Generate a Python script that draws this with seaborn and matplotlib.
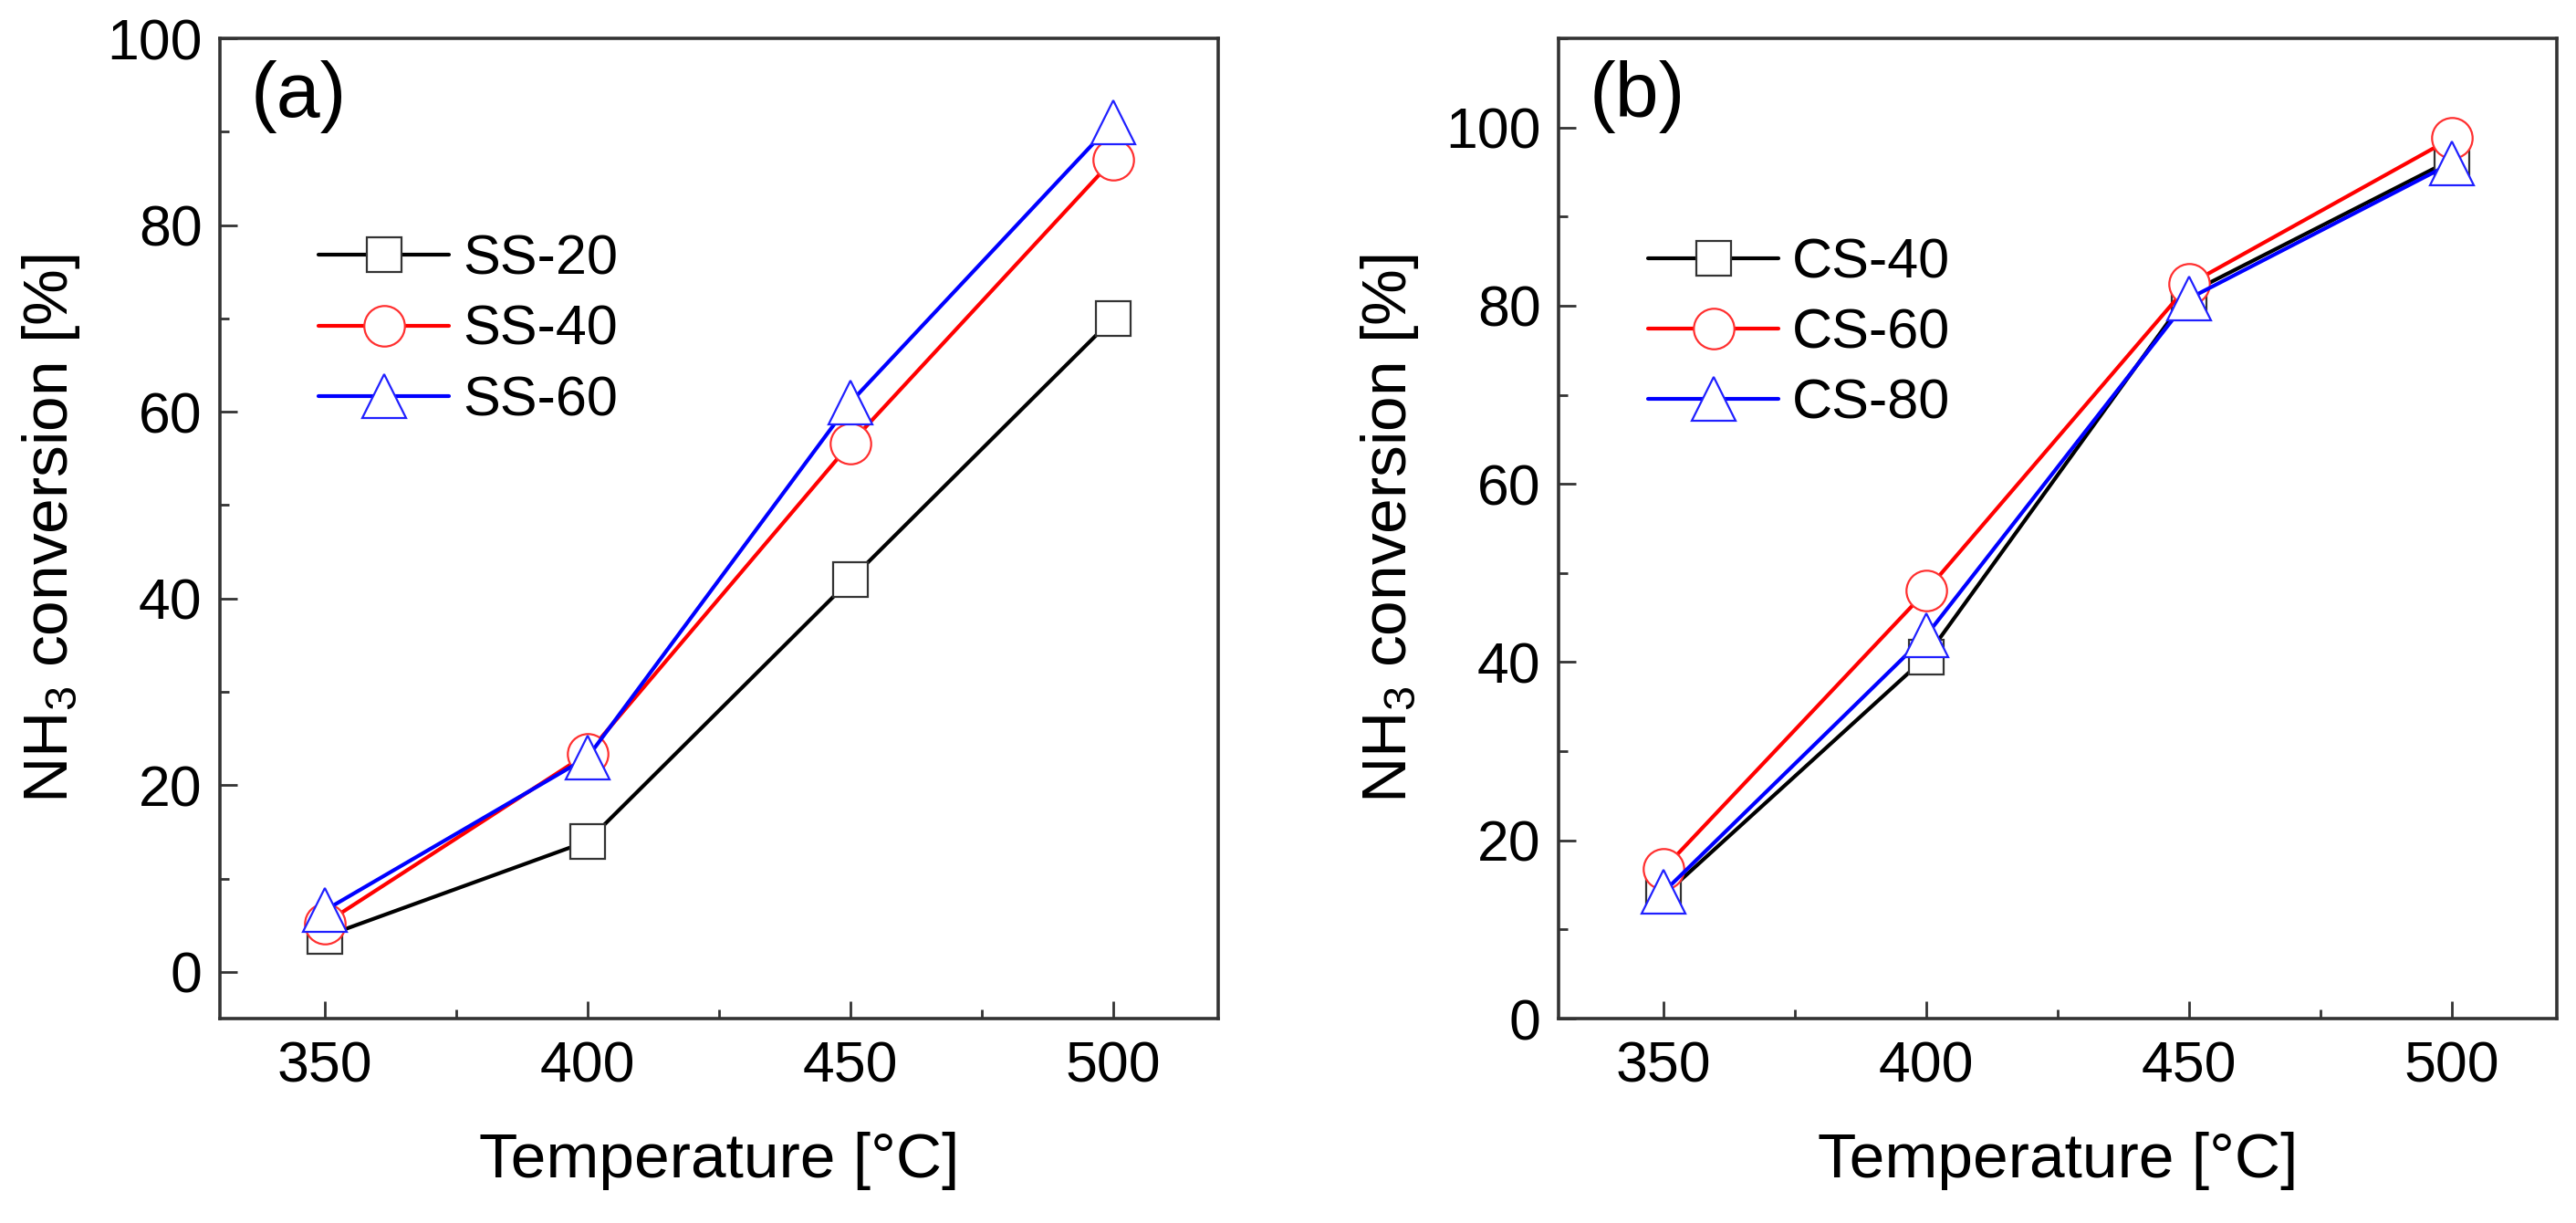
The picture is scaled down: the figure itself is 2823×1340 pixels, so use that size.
import numpy as np
import matplotlib
matplotlib.use('Agg')
import matplotlib.pyplot as plt
from matplotlib.ticker import MultipleLocator
import seaborn as sns

# data
temps = [350, 400, 450, 500]

ss_labels = ['SS-20', 'SS-40', 'SS-60']
ss_20 = [3.8, 14.0, 42.0, 70.0]
ss_40 = [5.2, 23.4, 56.6, 87.0]
ss_60 = [6.6, 23.0, 61.0, 91.0]

cs_labels = ['CS-40', 'CS-60', 'CS-80']
cs_40 = [13.8, 40.6, 81.4, 96.4]
cs_60 = [16.8, 48.0, 82.4, 98.8]
cs_80 = [14.2, 43.0, 80.8, 96.0]

colors = ['black', 'red', 'blue']
edge_colors = ['#333333', '#ff3030', '#2020ff']
markers = ['s', 'o', '^']
msizes = [27, 32, 34]

sns.set_style('ticks')
plt.rcParams['font.family'] = ['Liberation Sans', 'DejaVu Sans']
plt.rcParams['mathtext.default'] = 'regular'
plt.rcParams['text.color'] = 'black'
plt.rcParams['axes.labelcolor'] = 'black'
plt.rcParams['xtick.labelcolor'] = 'black'
plt.rcParams['ytick.labelcolor'] = 'black'

fig = plt.figure(figsize=(28.23, 13.40), dpi=100)
ax_a = fig.add_axes([241 / 2823, 1 - 1116 / 1340, (1335 - 241) / 2823, (1116 - 42) / 1340])
ax_b = fig.add_axes([1708 / 2823, 1 - 1116 / 1340, (2802 - 1708) / 2823, (1116 - 42) / 1340])


def draw_panel(ax, series, labels, ylim, tag, leg_xy):
    for vals, lab, c, ec, m, ms in zip(series, labels, colors, edge_colors, markers, msizes):
        sns.lineplot(x=temps, y=vals, ax=ax, color=c, lw=3, marker=m, markersize=ms,
                     markerfacecolor='white', markeredgecolor=ec, markeredgewidth=1.6,
                     label=lab)
    ax.set_xlim(330, 520)
    ax.set_ylim(*ylim)
    ax.xaxis.set_major_locator(MultipleLocator(50))
    ax.xaxis.set_minor_locator(MultipleLocator(25))
    ax.yaxis.set_major_locator(MultipleLocator(20))
    ax.yaxis.set_minor_locator(MultipleLocator(10))
    ax.tick_params(which='both', direction='in', top=False, right=False,
                   width=2, color='#333333', labelsize=45)
    ax.tick_params(axis='x', pad=17)
    ax.tick_params(axis='y', pad=14)
    ax.tick_params(which='major', length=14)
    ax.tick_params(which='minor', length=7)
    for sp in ax.spines.values():
        sp.set_linewidth(2.6)
        sp.set_color('#333333')
    ax.set_xlabel('Temperature [°C]', fontsize=50, labelpad=30)
    ax.set_ylabel('NH$_3$ conversion [%]', fontsize=50)
    ax.yaxis.set_label_coords(-0.138, 0.5)
    ax.text(0.031, 0.978, tag, transform=ax.transAxes, fontsize=62, va='top', ha='left')
    ax.legend(loc='upper left', bbox_to_anchor=leg_xy, frameon=False, fontsize=44,
              handlelength=2.33, handletextpad=0.25, labelspacing=0.33,
              borderpad=0, borderaxespad=0)


draw_panel(ax_a, [ss_20, ss_40, ss_60], ss_labels, (-5, 100), '(a)', (0.099, 0.80))
draw_panel(ax_b, [cs_40, cs_60, cs_80], cs_labels, (0, 110), '(b)', (0.09, 0.797))

fig.savefig('out.png', dpi=100, facecolor='white')
